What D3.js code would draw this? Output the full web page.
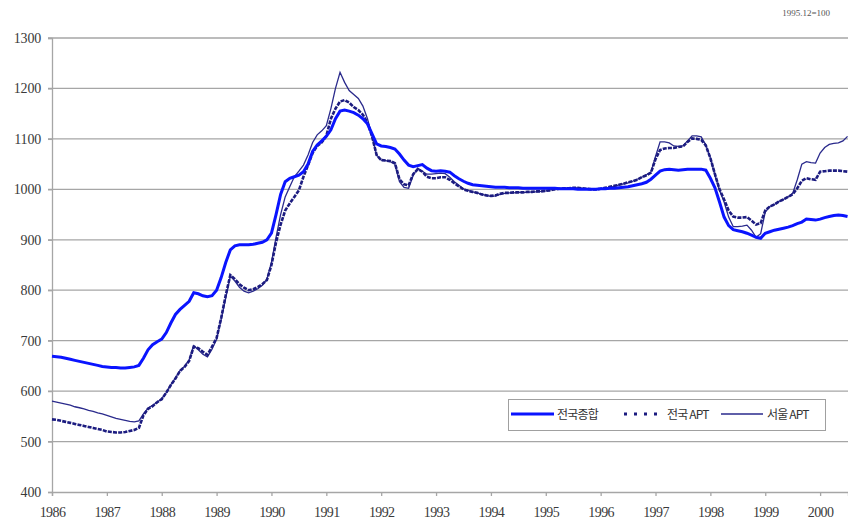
<!DOCTYPE html>
<html>
<head>
<meta charset="utf-8">
<script src="https://cdn.jsdelivr.net/npm/d3@7"></script>
<style>
html,body{margin:0;padding:0;background:#fff;}
svg{display:block;}
</style>
</head>
<body>
<svg id="chart" width="848" height="528"></svg>
<script>
// Monthly index values, Jan 1986 .. Jul 2000 (1995.12 = 100, shown x10)
const years = [1986,1987,1988,1989,1990,1991,1992,1993,1994,1995,1996,1997,1998,1999,2000];
const yTicks = [400,500,600,700,800,900,1000,1100,1200,1300];
const seriesNames = ["전국종합","전국 APT","서울 APT"];

const nationalAll = [
 669,668,667,665,663,661,659,657,655,653,651,649,
 648,647,647,646,646,647,648,651,665,682,692,698,
 703,716,735,752,762,770,778,795,793,789,787,789,
 800,825,855,880,888,890,890,890,891,893,895,900,
 913,950,990,1015,1022,1025,1028,1035,1050,1075,1088,1096,
 1105,1118,1140,1155,1157,1155,1152,1147,1140,1130,1110,1090,
 1086,1085,1083,1080,1070,1058,1048,1045,1047,1049,1042,1037,
 1036,1037,1036,1034,1027,1021,1016,1012,1009,1008,1007,1006,
 1005,1004,1004,1004,1003,1003,1003,1002,1002,1002,1002,1002,
 1002,1002,1002,1001,1001,1001,1001,1000,1000,1000,1000,1000,
 1001,1001,1002,1002,1003,1004,1005,1007,1009,1011,1014,1020,
 1028,1036,1039,1040,1039,1038,1039,1040,1040,1040,1040,1038,
 1022,1003,975,945,928,920,918,916,913,909,905,903,
 913,916,919,921,923,925,928,932,935,941,940,939,
 941,944,946,948,949,948,946
];

const nationalApt = [
 544,543,541,539,537,535,533,531,529,527,525,523,
 520,519,518,518,519,521,523,527,552,565,570,578,
 584,597,612,625,640,648,660,688,685,678,672,688,
 705,745,790,830,822,812,805,800,802,806,812,820,
 850,895,930,958,972,985,998,1025,1048,1072,1086,1093,
 1106,1140,1160,1174,1177,1172,1163,1157,1148,1132,1105,1068,
 1058,1057,1056,1052,1020,1010,1008,1030,1040,1035,1025,1022,
 1022,1024,1024,1019,1012,1006,1000,997,995,993,990,988,
 987,988,991,993,993,994,994,994,995,995,996,996,
 997,998,1000,1001,1002,1002,1003,1003,1002,1001,1000,1000,
 1001,1003,1005,1007,1009,1011,1014,1016,1019,1024,1028,1033,
 1060,1078,1081,1082,1082,1084,1085,1094,1101,1100,1098,1087,
 1062,1030,1000,980,958,946,944,944,945,938,930,933,
 958,966,970,976,980,985,990,1002,1017,1022,1020,1019,
 1035,1036,1037,1037,1037,1036,1035
];

const seoulApt = [
 580,578,576,574,572,569,567,565,562,560,557,555,
 552,549,546,544,542,540,539,541,555,566,572,578,
 585,597,613,626,641,649,662,690,682,673,668,683,
 703,742,785,828,818,806,798,795,798,803,810,822,
 855,905,950,985,1005,1025,1036,1048,1068,1093,1108,1116,
 1126,1160,1200,1232,1212,1196,1188,1180,1165,1140,1105,1068,
 1058,1057,1055,1050,1015,1004,1002,1028,1042,1036,1030,1030,
 1031,1032,1031,1024,1015,1008,1001,998,995,993,990,988,
 986,987,990,992,993,993,994,994,994,995,995,996,
 997,999,1001,1002,1002,1003,1003,1003,1002,1001,1000,1000,
 1001,1002,1004,1006,1009,1011,1013,1016,1020,1024,1029,1034,
 1065,1094,1094,1092,1086,1085,1086,1096,1106,1106,1104,1088,
 1062,1028,998,975,945,926,926,927,929,919,905,912,
 955,966,970,976,980,985,992,1019,1050,1055,1053,1052,
 1072,1083,1089,1091,1092,1096,1105
];

(function () {
const svg = d3.select("#chart");
const mLeft = 52, mRight = 848, mTop = 38, mBottom = 492;

const x = d3.scaleLinear().domain([0, 174.1]).range([mLeft, mRight]);
const y = d3.scaleLinear().domain([400, 1300]).range([mBottom, mTop]);

const fontSerif = "'Liberation Serif','DejaVu Serif',serif";
const gridCol = "#a6a6a6";

// gridlines
svg.append("g").selectAll("line").data(yTicks.filter(d => d > 400)).join("line")
  .attr("x1", mLeft - 4).attr("x2", mRight)
  .attr("y1", d => y(d)).attr("y2", d => y(d))
  .attr("stroke", gridCol).attr("stroke-width", 1.3);

// y axis
const yAxis = d3.axisLeft(y).tickValues(yTicks).tickSize(4).tickPadding(7)
  .tickFormat(d => String(d));
const gy = svg.append("g").attr("transform", `translate(${mLeft},0)`).call(yAxis);
gy.select(".domain").attr("stroke", gridCol).attr("stroke-width", 1.3);
gy.selectAll(".tick line").attr("stroke", gridCol).attr("stroke-width", 1.3);
gy.selectAll("text").attr("font-family", fontSerif).attr("font-size", 14)
  .attr("fill", "#3a3a3a").attr("letter-spacing", "-0.2px");

// x axis
const xAxis = d3.axisBottom(x).tickValues(years.map((yr, i) => i * 12))
  .tickSize(4).tickPadding(11).tickFormat((d, i) => years[i]);
const gx = svg.append("g").attr("transform", `translate(0,${mBottom})`).call(xAxis);
gx.select(".domain").attr("stroke", gridCol).attr("stroke-width", 1.3);
gx.selectAll(".tick line").attr("stroke", gridCol).attr("stroke-width", 1.3);
gx.selectAll("text").attr("font-family", fontSerif).attr("font-size", 14)
  .attr("fill", "#3a3a3a").attr("letter-spacing", "-0.6px");

const line = d3.line().x((d, i) => x(i)).y(d => y(d));

svg.append("path").datum(seoulApt).attr("d", line)
  .attr("fill", "none").attr("stroke", "#2a2a8c").attr("stroke-width", 1.3);
svg.append("path").datum(nationalApt).attr("d", line)
  .attr("fill", "none").attr("stroke", "#1c1c80").attr("stroke-width", 2.6)
  .attr("stroke-dasharray", "4,1.2");
svg.append("path").datum(nationalAll).attr("d", line)
  .attr("fill", "none").attr("stroke", "#0a14ff").attr("stroke-width", 3);

// unit note
svg.append("text").attr("x", 830).attr("y", 16).attr("text-anchor", "end")
  .attr("font-family", fontSerif).attr("font-size", 9).attr("fill", "#555")
  .text("1995.12=100");

// legend
const lg = svg.append("g");
lg.append("rect").attr("x", 508.5).attr("y", 399.5).attr("width", 317).attr("height", 31)
  .attr("fill", "#fff").attr("stroke", "#a0a0a0").attr("stroke-width", 1);
const ly = 414;
const legendItems = [
  {name: seriesNames[0], x1: 511, x2: 554, tx: 557, color: "#0a14ff", w: 3, dash: null},
  {name: seriesNames[1], x1: 624, x2: 664, tx: 667, color: "#1c1c80", w: 3, dash: "3,7"},
  {name: seriesNames[2], x1: 721, x2: 763, tx: 767, color: "#2a2a8c", w: 1.3, dash: null}
];
legendItems.forEach(it => {
  const l = lg.append("line").attr("x1", it.x1).attr("x2", it.x2).attr("y1", ly).attr("y2", ly)
    .attr("stroke", it.color).attr("stroke-width", it.w);
  if (it.dash) l.attr("stroke-dasharray", it.dash);
  lg.append("text").attr("x", it.tx).attr("y", ly + 4.5)
    .attr("font-family", "'Noto Sans CJK KR','Noto Sans',sans-serif")
    .attr("font-size", 12).attr("fill", "#333").attr("letter-spacing", "-0.8px")
    .text(it.name);
});
})();
</script>
</body>
</html>
